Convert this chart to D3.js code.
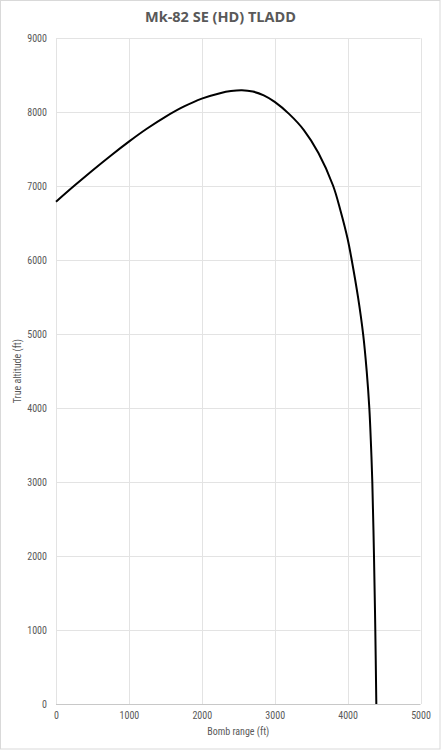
<!DOCTYPE html>
<meta charset="utf-8">
<script src="https://cdn.jsdelivr.net/npm/d3@7/dist/d3.min.js"></script>
<style>
body { margin: 0; background: #fff; }
text { fill: #595959; font-family: "Liberation Sans Narrow", "Roboto Condensed", "DejaVu Sans Condensed", sans-serif; }
.title { font-family: "Open Sans", "DejaVu Sans", sans-serif; font-weight: 700; font-size: 14.5px; }
</style>
<body>
<script>

// bomb range (ft) vs true altitude (ft)
var range = [0, 250, 500, 750, 1000, 1250, 1500, 1750, 2000, 2250, 2400, 2550, 2700, 2850, 3000, 3200, 3400, 3600, 3800, 3900, 4000, 4057, 4143, 4213, 4262, 4298, 4321, 4339, 4362, 4380, 4394];
var altitude = [6790, 7005, 7213, 7413, 7603, 7780, 7938, 8075, 8185, 8258, 8287, 8298, 8280, 8228, 8140, 7975, 7760, 7450, 7010, 6680, 6290, 6000, 5500, 5000, 4500, 4000, 3500, 3000, 2000, 1000, 0];

var xTicks = [0, 1000, 2000, 3000, 4000, 5000];
var yTicks = [0, 1000, 2000, 3000, 4000, 5000, 6000, 7000, 8000, 9000];

var width = 441,
    height = 750;

var svg = d3.select("body").append("svg")
    .attr("width", width)
    .attr("height", height);

// outer border
svg.append("rect")
    .attr("x", 0.5).attr("y", 0.5)
    .attr("width", width - 1.5).attr("height", height - 1.5)
    .attr("fill", "#fff")
    .attr("stroke", "#d9d9d9");

var x = d3.scaleLinear().domain([0, 5000]).range([56, 420.5]);
var y = d3.scaleLinear().domain([0, 9000]).range([704, 38.3]);

// gridlines
svg.append("g").selectAll("line.v")
    .data(xTicks)
  .enter().append("line")
    .attr("x1", function(d) { return Math.round(x(d)) + 0.5; })
    .attr("x2", function(d) { return Math.round(x(d)) + 0.5; })
    .attr("y1", y(9000)).attr("y2", y(0))
    .attr("stroke", "#e3e3e3");

svg.append("g").selectAll("line.h")
    .data(yTicks)
  .enter().append("line")
    .attr("x1", x(0)).attr("x2", x(5000))
    .attr("y1", function(d) { return Math.round(y(d)) + 0.5; })
    .attr("y2", function(d) { return Math.round(y(d)) + 0.5; })
    .attr("stroke", function(d) { return d == 0 ? "#c8c8c8" : "#e3e3e3"; });

// axes labels
var xAxis = d3.axisBottom(x).tickValues(xTicks).tickFormat(d3.format("d")).tickSize(0).tickPadding(8);
var yAxis = d3.axisLeft(y).tickValues(yTicks).tickFormat(d3.format("d")).tickSize(0).tickPadding(9);

var gx = svg.append("g").attr("transform", "translate(0," + Math.round(y(0)) + ")").call(xAxis);
var gy = svg.append("g").attr("transform", "translate(" + Math.round(x(0)) + ",0)").call(yAxis);
gx.select(".domain").remove();
gy.select(".domain").remove();
svg.selectAll(".tick text").attr("fill", "#595959").style("font-size", "10px");

// the curve
var pts = range.map(function(r, i) { return [r, altitude[i]]; });
var line = d3.line()
    .x(function(d) { return x(d[0]); })
    .y(function(d) { return y(d[1]); })
    .curve(d3.curveCatmullRom.alpha(0.5));

svg.append("path")
    .datum(pts)
    .attr("d", line)
    .attr("fill", "none")
    .attr("stroke", "#000")
    .attr("stroke-width", 2);

// titles
svg.append("text")
    .attr("class", "title")
    .attr("x", 220.5).attr("y", 22)
    .attr("text-anchor", "middle")
    .text("Mk-82 SE (HD) TLADD");

svg.append("text")
    .attr("x", (x(0) + x(5000)) / 2).attr("y", 735)
    .attr("text-anchor", "middle")
    .style("font-size", "10px")
    .text("Bomb range (ft)");

svg.append("text")
    .attr("transform", "translate(21," + (y(0) + y(9000)) / 2 + ") rotate(-90)")
    .attr("text-anchor", "middle")
    .style("font-size", "10px")
    .text("True altitude (ft)");

</script>
</body>
